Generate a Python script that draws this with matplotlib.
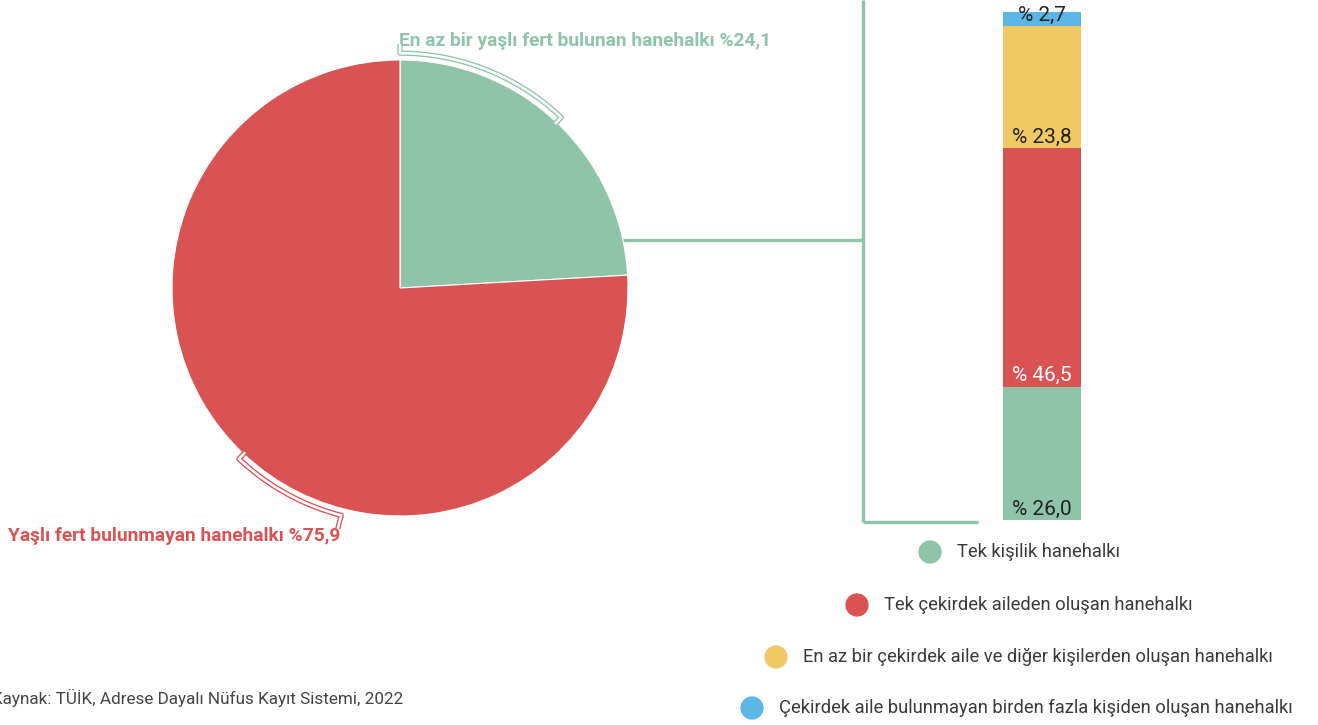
import numpy as np
import matplotlib
matplotlib.use('Agg')
import matplotlib.pyplot as plt

plt.rcParams['font.family'] = ['Roboto', 'DejaVu Sans']

# veriler
pie_labels = ['En az bir yaşlı fert bulunan hanehalkı %24,1',
              'Yaşlı fert bulunmayan hanehalkı %75,9']
pie_values = [24.1, 75.9]

bar_labels = ['Tek kişilik hanehalkı',
              'Tek çekirdek aileden oluşan hanehalkı',
              'En az bir çekirdek aile ve diğer kişilerden oluşan hanehalkı',
              'Çekirdek aile bulunmayan birden fazla kişiden oluşan hanehalkı']
bar_values = [26.0, 46.5, 23.8, 2.7]
bar_texts = ['% 26,0', '% 46,5', '% 23,8', '% 2,7']

source = 'Kaynak: TÜİK, Adrese Dayalı Nüfus Kayıt Sistemi, 2022'

GREEN = '#8fc4a8'
RED = '#d95355'
YELLOW = '#f0c965'
BLUE = '#5bb5e5'
bar_colors = [GREEN, RED, YELLOW, BLUE]
bar_text_colors = ['#222222', 'white', '#222222', '#222222']

W, H = 1318, 725
fig = plt.figure(figsize=(W / 100, H / 100), dpi=100)

# ust katman: piksel koordinatlari
over = fig.add_axes([0, 0, 1, 1])
over.set_xlim(0, W)
over.set_ylim(H, 0)
over.axis('off')

# pasta grafigi
cx, cy, R = 400, 288, 228
lim = 1.3
side = 2 * lim * R
pax = fig.add_axes([(cx - side / 2) / W, (H - cy - side / 2) / H, side / W, side / H])
pax.pie(pie_values, colors=[GREEN, RED], startangle=90, counterclock=False,
        radius=1, wedgeprops=dict(linewidth=0.8, edgecolor='white'))
pax.set_xlim(-lim, lim)
pax.set_ylim(-lim, lim)
pax.set_aspect('equal')
pax.axis('off')


def bracket(ax, a0, a1, r, color, out_end, out_r):
    t = np.radians(np.linspace(a0, a1, 60))
    xs = list(r * np.cos(t))
    ys = list(r * np.sin(t))
    # kisa cikintilar
    ta, tb = np.radians(a0), np.radians(a1)
    if out_end == 0:
        xs = [out_r * np.cos(ta)] + xs + [0.99 * np.cos(tb)]
        ys = [out_r * np.sin(ta)] + ys + [0.99 * np.sin(tb)]
    else:
        xs = [0.99 * np.cos(ta)] + xs + [out_r * np.cos(tb)]
        ys = [0.99 * np.sin(ta)] + ys + [out_r * np.sin(tb)]
    ax.plot(xs, ys, color=color, lw=3.8, solid_capstyle='butt', clip_on=False)
    ax.plot(xs, ys, color='white', lw=1.9, solid_capstyle='butt', clip_on=False)


half_green = 360 * pie_values[0] / sum(pie_values) / 2
bracket(pax, 90, 90 - half_green, 1.03, GREEN, 0, 1.07)
bracket(pax, 226.7, 255.5, 1.03, RED, 1, 1.09)

over.text(399, 41, pie_labels[0], color=GREEN, fontsize=13.8, fontweight='bold',
          ha='left', va='center')
over.text(8, 536, pie_labels[1], color=RED, fontsize=13.8, fontweight='bold',
          ha='left', va='center')

# baglanti cizgileri
lc = dict(color=GREEN, lw=2.4, solid_capstyle='butt')
over.plot([622, 863], [240, 240], **lc)
over.plot([863, 863], [0, 522], **lc)
over.plot([863, 978], [522, 522], **lc)

# yigilmis cubuk
bx0, bx1, by0, by1 = 1003, 1081, 520, 12
bax = fig.add_axes([bx0 / W, (H - by0) / H, (bx1 - bx0) / W, (by0 - by1) / H])
bottom = 0
for v, c, t, tc in zip(bar_values, bar_colors, bar_texts, bar_text_colors):
    bax.bar(0, v, bottom=bottom, width=1, color=c, linewidth=0)
    bax.annotate(t, (0, bottom), xytext=(0, 1), textcoords='offset points',
                 ha='center', va='bottom', fontsize=15, color=tc)
    bottom += v
bax.set_xlim(-0.5, 0.5)
bax.set_ylim(0, sum(bar_values))
bax.axis('off')

# lejant
leg_y = [552, 605, 657, 708]
leg_x = [930, 857, 776, 752]
for lab, c, x, y in zip(bar_labels, bar_colors, leg_x, leg_y):
    over.scatter([x], [y], s=280, color=c, edgecolors='none')
    over.text(x + 27, y, lab, fontsize=13.2, color='#3a3a3a', ha='left', va='center')

over.text(-8, 698, source, fontsize=12.3, color='#444444', ha='left', va='center')

fig.savefig('out.png', dpi=100)
